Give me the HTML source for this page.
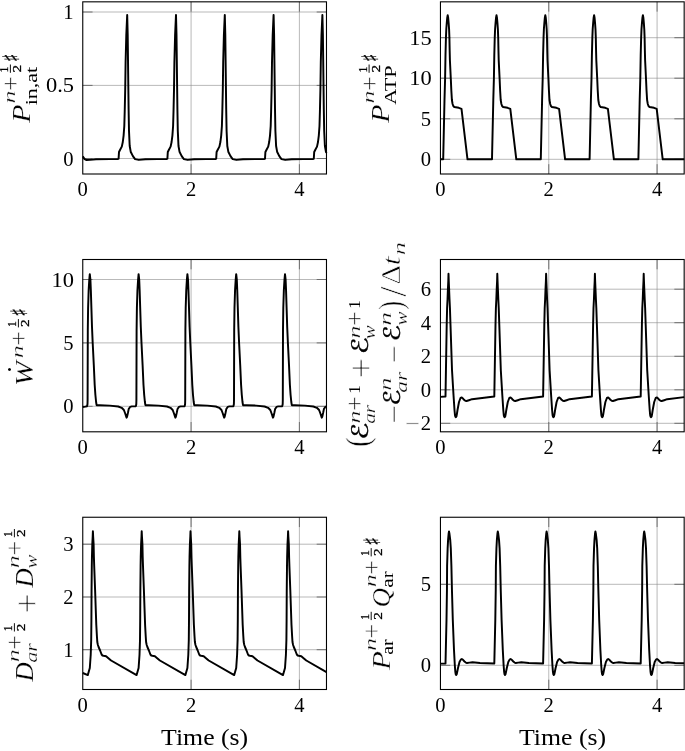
<!DOCTYPE html>
<html lang="en"><head><meta charset="utf-8"><title>Power and energy balance over time</title>
<style>html,body{margin:0;padding:0;background:#fff}svg{display:block}text{font-family:'Liberation Serif',serif;fill:#000}.m{font-family:'DejaVu Sans',sans-serif}</style>
</head><body>
<svg width="685" height="751" viewBox="0 0 685 751">
<rect width="685" height="751" fill="#fff"/>
<g id="plot1">
<path d="M191.08 1.83V174M299.4 1.83V174M82.76 158.5H326.48M82.76 85.4H326.48M82.76 12H326.48" fill="none" stroke="#8a8a8a" stroke-width="0.6"/>
<path d="M191.08 174v-9.8M191.08 1.83v9.8M299.4 174v-9.8M299.4 1.83v9.8M82.76 158.5h9.8M326.48 158.5h-9.8M82.76 85.4h9.8M326.48 85.4h-9.8M82.76 12h9.8M326.48 12h-9.8" fill="none" stroke="#606060" stroke-width="0.85"/>
<path d="M82.8 156.4 L83.6 157.5 L84.6 159.2 L86.5 160 L90 159.9 L96 159.3 L110 159.1 L118 159 L118.6 158.6 L119 152 L120 150 L121.8 146.6 L122.8 142 L123.6 135.6 L124.3 126 L124.7 112 L125.2 90 L125.6 62 L126.3 35 L127.2 14.9 L127.7 35 L128 60 L128.3 85 L128.6 109 L129 131 L129.7 146 L130.7 151.7 L132.9 156.1 L135.1 159.1 L138.8 159.9 L145.4 159.2 L157.2 159.1 L166.8 159 L167.4 158.6 L167.8 152 L168.8 150 L170.6 146.6 L171.6 142 L172.4 135.6 L173.1 126 L173.5 112 L174 90 L174.4 62 L175.1 35 L176 14.9 L176.5 35 L176.8 60 L177.1 85 L177.4 109 L177.8 131 L178.5 146 L179.5 151.7 L181.7 156.1 L183.9 159.1 L187.6 159.9 L194.2 159.2 L206 159.1 L215.6 159 L216.2 158.6 L216.6 152 L217.6 150 L219.4 146.6 L220.4 142 L221.2 135.6 L221.9 126 L222.3 112 L222.8 90 L223.2 62 L223.9 35 L224.8 14.9 L225.3 35 L225.6 60 L225.9 85 L226.2 109 L226.6 131 L227.3 146 L228.3 151.7 L230.5 156.1 L232.7 159.1 L236.4 159.9 L243 159.2 L254.8 159.1 L264.4 159 L265 158.6 L265.4 152 L266.4 150 L268.2 146.6 L269.2 142 L270 135.6 L270.7 126 L271.1 112 L271.6 90 L272 62 L272.7 35 L273.6 14.9 L274.1 35 L274.4 60 L274.7 85 L275 109 L275.4 131 L276.1 146 L277.1 151.7 L279.3 156.1 L281.5 159.1 L285.2 159.9 L291.8 159.2 L303.6 159.1 L313.2 159 L313.8 158.6 L314.2 152 L315.2 150 L317 146.6 L318 142 L318.8 135.6 L319.5 126 L319.9 112 L320.4 90 L320.8 62 L321.5 35 L322.4 14.9 L322.9 35 L323.2 60 L323.5 85 L323.8 109 L324.2 131 L324.9 146 L325.9 151.7 L326.48 152.86" fill="none" stroke="#000" stroke-width="1.95" stroke-linejoin="round" stroke-linecap="butt"/>
<rect x="82.76" y="1.83" width="243.72" height="172.17" fill="none" stroke="#000" stroke-width="1.1"/>
<text x="82.76" y="196.3" font-size="20.6" text-anchor="middle">0</text>
<text x="191.08" y="196.3" font-size="20.6" text-anchor="middle">2</text>
<text x="299.4" y="196.3" font-size="20.6" text-anchor="middle">4</text>
<text x="73.46" y="165.5" font-size="20.6" text-anchor="end">0</text>
<text x="74.06" y="92.4" font-size="20.6" text-anchor="end" textLength="28.07" lengthAdjust="spacingAndGlyphs">0.5</text>
<text x="73.46" y="19" font-size="20.6" text-anchor="end">1</text>
</g>
<g id="plot2">
<path d="M548.77 1.83V174M657.09 1.83V174M440.45 159.3H684.17M440.45 118.8H684.17M440.45 78.2H684.17M440.45 37.7H684.17" fill="none" stroke="#8a8a8a" stroke-width="0.6"/>
<path d="M548.77 174v-9.8M548.77 1.83v9.8M657.09 174v-9.8M657.09 1.83v9.8M440.45 159.3h9.8M684.17 159.3h-9.8M440.45 118.8h9.8M684.17 118.8h-9.8M440.45 78.2h9.8M684.17 78.2h-9.8M440.45 37.7h9.8M684.17 37.7h-9.8" fill="none" stroke="#606060" stroke-width="0.85"/>
<path d="M440.5 159.3 L443.2 159.3 L444.5 100 L445.1 78.5 L445.5 55 L445.95 37.6 L446.3 29 L446.75 23 L447.2 18 L447.7 15.2 L448.2 18 L448.65 23 L449.1 29.5 L449.4 37.6 L449.65 50 L449.9 60 L450.8 78.5 L451.3 90 L451.9 100 L452.6 104 L453.3 106 L454.3 107 L458.8 107.8 L461.5 108.8 L467.5 159.3 L477.7 159.3 L492 159.3 L493.3 100 L493.9 78.5 L494.3 55 L494.75 37.6 L495.1 29 L495.55 23 L496 18 L496.5 15.2 L497 18 L497.45 23 L497.9 29.5 L498.2 37.6 L498.45 50 L498.7 60 L499.6 78.5 L500.1 90 L500.7 100 L501.4 104 L502.1 106 L503.1 107 L507.6 107.8 L510.3 108.8 L516.3 159.3 L526.5 159.3 L540.8 159.3 L542.1 100 L542.7 78.5 L543.1 55 L543.55 37.6 L543.9 29 L544.35 23 L544.8 18 L545.3 15.2 L545.8 18 L546.25 23 L546.7 29.5 L547 37.6 L547.25 50 L547.5 60 L548.4 78.5 L548.9 90 L549.5 100 L550.2 104 L550.9 106 L551.9 107 L556.4 107.8 L559.1 108.8 L565.1 159.3 L575.3 159.3 L589.6 159.3 L590.9 100 L591.5 78.5 L591.9 55 L592.35 37.6 L592.7 29 L593.15 23 L593.6 18 L594.1 15.2 L594.6 18 L595.05 23 L595.5 29.5 L595.8 37.6 L596.05 50 L596.3 60 L597.2 78.5 L597.7 90 L598.3 100 L599 104 L599.7 106 L600.7 107 L605.2 107.8 L607.9 108.8 L613.9 159.3 L624.1 159.3 L638.4 159.3 L639.7 100 L640.3 78.5 L640.7 55 L641.15 37.6 L641.5 29 L641.95 23 L642.4 18 L642.9 15.2 L643.4 18 L643.85 23 L644.3 29.5 L644.6 37.6 L644.85 50 L645.1 60 L646 78.5 L646.5 90 L647.1 100 L647.8 104 L648.5 106 L649.5 107 L654 107.8 L656.7 108.8 L662.7 159.3 L672.9 159.3 L684.17 159.3" fill="none" stroke="#000" stroke-width="1.95" stroke-linejoin="round" stroke-linecap="butt"/>
<rect x="440.45" y="1.83" width="243.72" height="172.17" fill="none" stroke="#000" stroke-width="1.1"/>
<text x="440.45" y="196.3" font-size="20.6" text-anchor="middle">0</text>
<text x="548.77" y="196.3" font-size="20.6" text-anchor="middle">2</text>
<text x="657.09" y="196.3" font-size="20.6" text-anchor="middle">4</text>
<text x="431.15" y="166.3" font-size="20.6" text-anchor="end">0</text>
<text x="431.15" y="125.8" font-size="20.6" text-anchor="end">5</text>
<text x="431.75" y="85.2" font-size="20.6" text-anchor="end" textLength="22.45" lengthAdjust="spacingAndGlyphs">10</text>
<text x="431.75" y="44.7" font-size="20.6" text-anchor="end" textLength="22.45" lengthAdjust="spacingAndGlyphs">15</text>
</g>
<g id="plot3">
<path d="M191.08 259.5V431.8M299.4 259.5V431.8M82.76 406.3H326.48M82.76 342.9H326.48M82.76 279.5H326.48" fill="none" stroke="#8a8a8a" stroke-width="0.6"/>
<path d="M191.08 431.8v-9.8M191.08 259.5v9.8M299.4 431.8v-9.8M299.4 259.5v9.8M82.76 406.3h9.8M326.48 406.3h-9.8M82.76 342.9h9.8M326.48 342.9h-9.8M82.76 279.5h9.8M326.48 279.5h-9.8" fill="none" stroke="#606060" stroke-width="0.85"/>
<path d="M82.8 407 L85.5 406.6 L87.1 406.2 L87.5 404 L87.6 400 L87.8 330 L88.1 308 L88.65 290.4 L89.3 279.5 L89.8 274.2 L90.4 279.5 L90.85 290.4 L91.4 308 L92 327 L92.7 343 L93.8 365 L94.7 385 L95.4 395 L96.1 402 L96.6 405.2 L99.8 405.3 L109.8 405.6 L118.2 406.5 L121.7 407.8 L123.9 410 L125.2 413.5 L126.1 416.3 L126.6 417.7 L127.1 416.5 L127.9 413 L128.7 409.1 L130.1 406.9 L131.8 406.4 L135.9 406.2 L136.3 404 L136.4 400 L136.6 330 L136.9 308 L137.45 290.4 L138.1 279.5 L138.6 274.2 L139.2 279.5 L139.65 290.4 L140.2 308 L140.8 327 L141.5 343 L142.6 365 L143.5 385 L144.2 395 L144.9 402 L145.4 405.2 L148.6 405.3 L158.6 405.6 L167 406.5 L170.5 407.8 L172.7 410 L174 413.5 L174.9 416.3 L175.4 417.7 L175.9 416.5 L176.7 413 L177.5 409.1 L178.9 406.9 L180.6 406.4 L184.7 406.2 L185.1 404 L185.2 400 L185.4 330 L185.7 308 L186.25 290.4 L186.9 279.5 L187.4 274.2 L188 279.5 L188.45 290.4 L189 308 L189.6 327 L190.3 343 L191.4 365 L192.3 385 L193 395 L193.7 402 L194.2 405.2 L197.4 405.3 L207.4 405.6 L215.8 406.5 L219.3 407.8 L221.5 410 L222.8 413.5 L223.7 416.3 L224.2 417.7 L224.7 416.5 L225.5 413 L226.3 409.1 L227.7 406.9 L229.4 406.4 L233.5 406.2 L233.5 406.2 L233.9 404 L234 400 L234.2 330 L234.5 308 L235.05 290.4 L235.7 279.5 L236.2 274.2 L236.8 279.5 L237.25 290.4 L237.8 308 L238.4 327 L239.1 343 L240.2 365 L241.1 385 L241.8 395 L242.5 402 L243 405.2 L246.2 405.3 L256.2 405.6 L264.6 406.5 L268.1 407.8 L270.3 410 L271.6 413.5 L272.5 416.3 L273 417.7 L273.5 416.5 L274.3 413 L275.1 409.1 L276.5 406.9 L278.2 406.4 L282.3 406.2 L282.7 404 L282.8 400 L283 330 L283.3 308 L283.85 290.4 L284.5 279.5 L285 274.2 L285.6 279.5 L286.05 290.4 L286.6 308 L287.2 327 L287.9 343 L289 365 L289.9 385 L290.6 395 L291.3 402 L291.8 405.2 L295 405.3 L305 405.6 L313.4 406.5 L316.9 407.8 L319.1 410 L320.4 413.5 L321.3 416.3 L321.8 417.7 L322.3 416.5 L323.1 413 L323.9 409.1 L325.3 406.9 L326.48 406.55" fill="none" stroke="#000" stroke-width="1.95" stroke-linejoin="round" stroke-linecap="butt"/>
<rect x="82.76" y="259.5" width="243.72" height="172.3" fill="none" stroke="#000" stroke-width="1.1"/>
<text x="82.76" y="454.1" font-size="20.6" text-anchor="middle">0</text>
<text x="191.08" y="454.1" font-size="20.6" text-anchor="middle">2</text>
<text x="299.4" y="454.1" font-size="20.6" text-anchor="middle">4</text>
<text x="73.46" y="413.3" font-size="20.6" text-anchor="end">0</text>
<text x="73.46" y="349.9" font-size="20.6" text-anchor="end">5</text>
<text x="74.06" y="286.5" font-size="20.6" text-anchor="end" textLength="22.45" lengthAdjust="spacingAndGlyphs">10</text>
</g>
<g id="plot4">
<path d="M548.77 259.5V431.8M657.09 259.5V431.8M440.45 423.3H684.17M440.45 389.8H684.17M440.45 356.3H684.17M440.45 322.7H684.17M440.45 289.2H684.17" fill="none" stroke="#8a8a8a" stroke-width="0.6"/>
<path d="M548.77 431.8v-9.8M548.77 259.5v9.8M657.09 431.8v-9.8M657.09 259.5v9.8M440.45 423.3h9.8M684.17 423.3h-9.8M440.45 389.8h9.8M684.17 389.8h-9.8M440.45 356.3h9.8M684.17 356.3h-9.8M440.45 322.7h9.8M684.17 322.7h-9.8M440.45 289.2h9.8M684.17 289.2h-9.8" fill="none" stroke="#606060" stroke-width="0.85"/>
<path d="M440.5 396.9 L445.5 396.5 L446.7 325 L447.1 308 L447.55 299 L447.9 289.5 L448.3 281 L448.5 273.8 L448.75 281 L449.1 289.5 L449.5 299 L449.93 308 L450.5 325 L452 370 L453.5 395 L454.5 410 L455 415.3 L455.4 416.8 L455.9 417.2 L456.4 416.5 L456.8 414.6 L457.5 410 L459 402 L460.5 398 L461.8 397.5 L462.9 398.4 L464 399.8 L465.3 400.8 L466.5 401 L469 400.2 L472 399.2 L494.3 396.5 L495.5 325 L495.9 308 L496.35 299 L496.7 289.5 L497.1 281 L497.3 273.8 L497.55 281 L497.9 289.5 L498.3 299 L498.73 308 L499.3 325 L500.8 370 L502.3 395 L503.3 410 L503.8 415.3 L504.2 416.8 L504.7 417.2 L505.2 416.5 L505.6 414.6 L506.3 410 L507.8 402 L509.3 398 L510.6 397.5 L511.7 398.4 L512.8 399.8 L514.1 400.8 L515.3 401 L517.8 400.2 L520.8 399.2 L543.1 396.5 L544.3 325 L544.7 308 L545.15 299 L545.5 289.5 L545.9 281 L546.1 273.8 L546.35 281 L546.7 289.5 L547.1 299 L547.53 308 L548.1 325 L549.6 370 L551.1 395 L552.1 410 L552.6 415.3 L553 416.8 L553.5 417.2 L554 416.5 L554.4 414.6 L555.1 410 L556.6 402 L558.1 398 L559.4 397.5 L560.5 398.4 L561.6 399.8 L562.9 400.8 L564.1 401 L566.6 400.2 L569.6 399.2 L591.9 396.5 L593.1 325 L593.5 308 L593.95 299 L594.3 289.5 L594.7 281 L594.9 273.8 L595.15 281 L595.5 289.5 L595.9 299 L596.33 308 L596.9 325 L598.4 370 L599.9 395 L600.9 410 L601.4 415.3 L601.8 416.8 L602.3 417.2 L602.8 416.5 L603.2 414.6 L603.9 410 L605.4 402 L606.9 398 L608.2 397.5 L609.3 398.4 L610.4 399.8 L611.7 400.8 L612.9 401 L615.4 400.2 L618.4 399.2 L640.7 396.5 L640.7 396.5 L641.9 325 L642.3 308 L642.75 299 L643.1 289.5 L643.5 281 L643.7 273.8 L643.95 281 L644.3 289.5 L644.7 299 L645.13 308 L645.7 325 L647.2 370 L648.7 395 L649.7 410 L650.2 415.3 L650.6 416.8 L651.1 417.2 L651.6 416.5 L652 414.6 L652.7 410 L654.2 402 L655.7 398 L657 397.5 L658.1 398.4 L659.2 399.8 L660.5 400.8 L661.7 401 L664.2 400.2 L667.2 399.2 L684.17 397.15" fill="none" stroke="#000" stroke-width="1.95" stroke-linejoin="round" stroke-linecap="butt"/>
<rect x="440.45" y="259.5" width="243.72" height="172.3" fill="none" stroke="#000" stroke-width="1.1"/>
<text x="440.45" y="454.1" font-size="20.6" text-anchor="middle">0</text>
<text x="548.77" y="454.1" font-size="20.6" text-anchor="middle">2</text>
<text x="657.09" y="454.1" font-size="20.6" text-anchor="middle">4</text>
<text x="405.02" y="430.8" font-size="22.6" textLength="15.04" lengthAdjust="spacingAndGlyphs" stroke="#fff" stroke-width="0.4">−</text>
<text x="431.15" y="430.3" font-size="20.6" text-anchor="end">2</text>
<text x="431.15" y="396.8" font-size="20.6" text-anchor="end">0</text>
<text x="431.15" y="363.3" font-size="20.6" text-anchor="end">2</text>
<text x="431.15" y="329.7" font-size="20.6" text-anchor="end">4</text>
<text x="431.15" y="296.2" font-size="20.6" text-anchor="end">6</text>
</g>
<g id="plot5">
<path d="M191.08 517.25V689.5M299.4 517.25V689.5M82.76 649.7H326.48M82.76 597H326.48M82.76 544.2H326.48" fill="none" stroke="#8a8a8a" stroke-width="0.6"/>
<path d="M191.08 689.5v-9.8M191.08 517.25v9.8M299.4 689.5v-9.8M299.4 517.25v9.8M82.76 649.7h9.8M326.48 649.7h-9.8M82.76 597h9.8M326.48 597h-9.8M82.76 544.2h9.8M326.48 544.2h-9.8" fill="none" stroke="#606060" stroke-width="0.85"/>
<path d="M82.8 673 L87.8 675.1 L89.8 668 L90.7 655 L91.2 640 L91.4 620 L91.55 590 L91.8 566 L91.95 557 L92.3 544.3 L92.7 536.6 L92.9 531.3 L93.15 536.6 L93.62 544.3 L93.9 557 L94.2 566 L95.1 590 L95.6 605 L96.3 625 L96.9 636 L97.3 642 L97.9 645 L98.6 647 L100.1 650.5 L101.6 654.5 L102.5 655.5 L103.6 655.8 L106.1 656.2 L108.4 658.2 L111.1 660.5 L136.6 675.1 L138.6 668 L139.5 655 L140 640 L140.2 620 L140.35 590 L140.6 566 L140.75 557 L141.1 544.3 L141.5 536.6 L141.7 531.3 L141.95 536.6 L142.42 544.3 L142.7 557 L143 566 L143.9 590 L144.4 605 L145.1 625 L145.7 636 L146.1 642 L146.7 645 L147.4 647 L148.9 650.5 L150.4 654.5 L151.3 655.5 L152.4 655.8 L154.9 656.2 L157.2 658.2 L159.9 660.5 L185.4 675.1 L185.4 675.1 L187.4 668 L188.3 655 L188.8 640 L189 620 L189.15 590 L189.4 566 L189.55 557 L189.9 544.3 L190.3 536.6 L190.5 531.3 L190.75 536.6 L191.22 544.3 L191.5 557 L191.8 566 L192.7 590 L193.2 605 L193.9 625 L194.5 636 L194.9 642 L195.5 645 L196.2 647 L197.7 650.5 L199.2 654.5 L200.1 655.5 L201.2 655.8 L203.7 656.2 L206 658.2 L208.7 660.5 L234.2 675.1 L236.2 668 L237.1 655 L237.6 640 L237.8 620 L237.95 590 L238.2 566 L238.35 557 L238.7 544.3 L239.1 536.6 L239.3 531.3 L239.55 536.6 L240.02 544.3 L240.3 557 L240.6 566 L241.5 590 L242 605 L242.7 625 L243.3 636 L243.7 642 L244.3 645 L245 647 L246.5 650.5 L248 654.5 L248.9 655.5 L250 655.8 L252.5 656.2 L254.8 658.2 L257.5 660.5 L283 675.1 L285 668 L285.9 655 L286.4 640 L286.6 620 L286.75 590 L287 566 L287.15 557 L287.5 544.3 L287.9 536.6 L288.1 531.3 L288.35 536.6 L288.82 544.3 L289.1 557 L289.4 566 L290.3 590 L290.8 605 L291.5 625 L292.1 636 L292.5 642 L293.1 645 L293.8 647 L295.3 650.5 L296.8 654.5 L297.7 655.5 L298.8 655.8 L301.3 656.2 L303.6 658.2 L306.3 660.5 L326.48 672.05" fill="none" stroke="#000" stroke-width="1.95" stroke-linejoin="round" stroke-linecap="butt"/>
<rect x="82.76" y="517.25" width="243.72" height="172.25" fill="none" stroke="#000" stroke-width="1.1"/>
<text x="82.76" y="711.8" font-size="20.6" text-anchor="middle">0</text>
<text x="191.08" y="711.8" font-size="20.6" text-anchor="middle">2</text>
<text x="299.4" y="711.8" font-size="20.6" text-anchor="middle">4</text>
<text x="73.46" y="656.7" font-size="20.6" text-anchor="end">1</text>
<text x="73.46" y="604" font-size="20.6" text-anchor="end">2</text>
<text x="73.46" y="551.2" font-size="20.6" text-anchor="end">3</text>
</g>
<g id="plot6">
<path d="M548.77 517.25V689.5M657.09 517.25V689.5M440.45 665.3H684.17M440.45 584.3H684.17" fill="none" stroke="#8a8a8a" stroke-width="0.6"/>
<path d="M548.77 689.5v-9.8M548.77 517.25v9.8M657.09 689.5v-9.8M657.09 517.25v9.8M440.45 665.3h9.8M684.17 665.3h-9.8M440.45 584.3h9.8M684.17 584.3h-9.8" fill="none" stroke="#606060" stroke-width="0.85"/>
<path d="M440.5 663.6 L445.5 663.5 L446.5 620 L446.95 590 L447.1 566 L447.64 548.4 L448.1 539.6 L448.6 534 L449 531.5 L449.5 534 L450.2 539.6 L450.8 548.4 L451.4 566 L451.95 590 L452.8 620 L454 650 L454.8 665 L455.3 671.5 L455.7 674.2 L456.2 675 L456.7 674.2 L457.2 672 L458 668 L459.5 662 L460.8 659.6 L461.8 659 L463 659.8 L464.5 661.5 L465.8 662.6 L467 663 L469.5 662.6 L472.5 662.2 L480 663 L494.3 663.5 L495.3 620 L495.75 590 L495.9 566 L496.44 548.4 L496.9 539.6 L497.4 534 L497.8 531.5 L498.3 534 L499 539.6 L499.6 548.4 L500.2 566 L500.75 590 L501.6 620 L502.8 650 L503.6 665 L504.1 671.5 L504.5 674.2 L505 675 L505.5 674.2 L506 672 L506.8 668 L508.3 662 L509.6 659.6 L510.6 659 L511.8 659.8 L513.3 661.5 L514.6 662.6 L515.8 663 L518.3 662.6 L521.3 662.2 L528.8 663 L543.1 663.5 L544.1 620 L544.55 590 L544.7 566 L545.24 548.4 L545.7 539.6 L546.2 534 L546.6 531.5 L547.1 534 L547.8 539.6 L548.4 548.4 L549 566 L549.55 590 L550.4 620 L551.6 650 L552.4 665 L552.9 671.5 L553.3 674.2 L553.8 675 L554.3 674.2 L554.8 672 L555.6 668 L557.1 662 L558.4 659.6 L559.4 659 L560.6 659.8 L562.1 661.5 L563.4 662.6 L564.6 663 L567.1 662.6 L570.1 662.2 L577.6 663 L591.9 663.5 L592.9 620 L593.35 590 L593.5 566 L594.04 548.4 L594.5 539.6 L595 534 L595.4 531.5 L595.9 534 L596.6 539.6 L597.2 548.4 L597.8 566 L598.35 590 L599.2 620 L600.4 650 L601.2 665 L601.7 671.5 L602.1 674.2 L602.6 675 L603.1 674.2 L603.6 672 L604.4 668 L605.9 662 L607.2 659.6 L608.2 659 L609.4 659.8 L610.9 661.5 L612.2 662.6 L613.4 663 L615.9 662.6 L618.9 662.2 L626.4 663 L640.7 663.5 L640.7 663.5 L641.7 620 L642.15 590 L642.3 566 L642.84 548.4 L643.3 539.6 L643.8 534 L644.2 531.5 L644.7 534 L645.4 539.6 L646 548.4 L646.6 566 L647.15 590 L648 620 L649.2 650 L650 665 L650.5 671.5 L650.9 674.2 L651.4 675 L651.9 674.2 L652.4 672 L653.2 668 L654.7 662 L656 659.6 L657 659 L658.2 659.8 L659.7 661.5 L661 662.6 L662.2 663 L664.7 662.6 L667.7 662.2 L675.2 663 L684.17 663.31" fill="none" stroke="#000" stroke-width="1.95" stroke-linejoin="round" stroke-linecap="butt"/>
<rect x="440.45" y="517.25" width="243.72" height="172.25" fill="none" stroke="#000" stroke-width="1.1"/>
<text x="440.45" y="711.8" font-size="20.6" text-anchor="middle">0</text>
<text x="548.77" y="711.8" font-size="20.6" text-anchor="middle">2</text>
<text x="657.09" y="711.8" font-size="20.6" text-anchor="middle">4</text>
<text x="431.15" y="672.3" font-size="20.6" text-anchor="end">0</text>
<text x="431.15" y="591.3" font-size="20.6" text-anchor="end">5</text>
</g>
<text x="161.1" y="744.8" font-size="23" textLength="87.1" lengthAdjust="spacingAndGlyphs">Time (s)</text>
<text x="519" y="744.8" font-size="23" textLength="87.1" lengthAdjust="spacingAndGlyphs">Time (s)</text>
<g id="ylabel1" transform="translate(29.8 122.9) rotate(-90)">
<text x="0.15" y="0.6" font-size="26" font-style="italic" textLength="18.33" lengthAdjust="spacingAndGlyphs" stroke="#fff" stroke-width="0.2">P</text>
<text x="17.56" y="7.2" font-size="17.5" textLength="38.45" lengthAdjust="spacingAndGlyphs">in,at</text>
<text x="19.29" y="-14.4" font-size="17.5" font-style="italic" textLength="12.94" lengthAdjust="spacingAndGlyphs" stroke="#fff" stroke-width="0.3">n</text>
<text x="31.79" y="-10.7" font-size="26" textLength="14.8" lengthAdjust="spacingAndGlyphs" stroke="#fff" stroke-width="0.5">+</text>
<path d="M50.1 -19.4H58.4" stroke="#000" stroke-width="0.95" fill="none"/>
<text x="50.45" y="-22" font-size="11.5" textLength="5.86" lengthAdjust="spacingAndGlyphs" stroke="#000" stroke-width="0.3">1</text>
<text x="50.41" y="-8.8" font-size="11.5" textLength="7.63" lengthAdjust="spacingAndGlyphs" stroke="#000" stroke-width="0.3">2</text>
<text x="62.18" y="-12.9" font-size="20" textLength="6.33" lengthAdjust="spacingAndGlyphs" stroke="#000" stroke-width="0.35">♯</text>
</g>
<g id="ylabel2" transform="translate(388.5 122.9) rotate(-90)">
<text x="0.15" y="0.6" font-size="26" font-style="italic" textLength="18.33" lengthAdjust="spacingAndGlyphs" stroke="#fff" stroke-width="0.2">P</text>
<text x="18.08" y="7.6" font-size="17" textLength="39.36" lengthAdjust="spacingAndGlyphs">ATP</text>
<text x="19.29" y="-14.4" font-size="17.5" font-style="italic" textLength="12.94" lengthAdjust="spacingAndGlyphs" stroke="#fff" stroke-width="0.3">n</text>
<text x="31.79" y="-10.7" font-size="26" textLength="14.8" lengthAdjust="spacingAndGlyphs" stroke="#fff" stroke-width="0.5">+</text>
<path d="M50.1 -19.4H58.4" stroke="#000" stroke-width="0.95" fill="none"/>
<text x="50.45" y="-22" font-size="11.5" textLength="5.86" lengthAdjust="spacingAndGlyphs" stroke="#000" stroke-width="0.3">1</text>
<text x="50.41" y="-8.8" font-size="11.5" textLength="7.63" lengthAdjust="spacingAndGlyphs" stroke="#000" stroke-width="0.3">2</text>
<text x="62.18" y="-12.9" font-size="20" textLength="6.33" lengthAdjust="spacingAndGlyphs" stroke="#000" stroke-width="0.35">♯</text>
</g>
<g id="ylabel3" transform="translate(32.4 384) rotate(-90)">
<text x="-1.92" y="0.3" font-size="26" font-style="italic" textLength="24.64" lengthAdjust="spacingAndGlyphs" stroke="#fff" stroke-width="0.2">W</text>
<text x="11.25" y="-21" font-size="26">.</text>
<text x="25.79" y="-9" font-size="17.5" font-style="italic" textLength="12.94" lengthAdjust="spacingAndGlyphs" stroke="#fff" stroke-width="0.3">n</text>
<text x="38.29" y="-5.3" font-size="26" textLength="14.8" lengthAdjust="spacingAndGlyphs" stroke="#fff" stroke-width="0.5">+</text>
<path d="M56.6 -14H64.9" stroke="#000" stroke-width="0.95" fill="none"/>
<text x="56.95" y="-16.6" font-size="11.5" textLength="5.86" lengthAdjust="spacingAndGlyphs" stroke="#000" stroke-width="0.3">1</text>
<text x="56.91" y="-3.4" font-size="11.5" textLength="7.63" lengthAdjust="spacingAndGlyphs" stroke="#000" stroke-width="0.3">2</text>
<text x="68.68" y="-7.5" font-size="20" textLength="6.33" lengthAdjust="spacingAndGlyphs" stroke="#000" stroke-width="0.35">♯</text>
</g>
<g id="ylabel4" transform="translate(367.8 445.6) rotate(-90)">
<text x="-1.31" y="1.5" font-size="33" textLength="9.66" lengthAdjust="spacingAndGlyphs" stroke="#fff" stroke-width="0.5">(</text>
<text x="5.82" y="0" font-size="23" class="m" textLength="17.21" lengthAdjust="spacingAndGlyphs" stroke="#000" stroke-width="0.3">ℰ</text>
<text x="21.76" y="6.9" font-size="17.5" font-style="italic" textLength="19.02" lengthAdjust="spacingAndGlyphs" stroke="#fff" stroke-width="0.25">ar</text>
<text x="21.99" y="-8.1" font-size="17.5" font-style="italic" textLength="12.94" lengthAdjust="spacingAndGlyphs" stroke="#fff" stroke-width="0.3">n</text>
<text x="34.49" y="-4.4" font-size="26" textLength="14.8" lengthAdjust="spacingAndGlyphs" stroke="#fff" stroke-width="0.5">+</text>
<text x="51.96" y="-8.1" font-size="16.5" textLength="8.57" lengthAdjust="spacingAndGlyphs">1</text>
<text x="67.64" y="5.15" font-size="35" textLength="19.89" lengthAdjust="spacingAndGlyphs" stroke="#fff" stroke-width="0.7">+</text>
<text x="91.42" y="0" font-size="23" class="m" textLength="17.21" lengthAdjust="spacingAndGlyphs" stroke="#000" stroke-width="0.3">ℰ</text>
<text x="106.38" y="6.9" font-size="17.5" font-style="italic" textLength="13.97" lengthAdjust="spacingAndGlyphs" stroke="#fff" stroke-width="0.25">w</text>
<text x="106.99" y="-8.1" font-size="17.5" font-style="italic" textLength="12.94" lengthAdjust="spacingAndGlyphs" stroke="#fff" stroke-width="0.3">n</text>
<text x="119.49" y="-4.4" font-size="26" textLength="14.8" lengthAdjust="spacingAndGlyphs" stroke="#fff" stroke-width="0.5">+</text>
<text x="136.96" y="-8.1" font-size="16.5" textLength="8.57" lengthAdjust="spacingAndGlyphs">1</text>
<text x="21.85" y="37.2" font-size="33" textLength="18.56" lengthAdjust="spacingAndGlyphs" stroke="#fff" stroke-width="0.6">−</text>
<text x="39.96" y="32.2" font-size="23" class="m" textLength="16.22" lengthAdjust="spacingAndGlyphs" stroke="#000" stroke-width="0.3">ℰ</text>
<text x="52.9" y="39.6" font-size="17.5" font-style="italic" textLength="20.78" lengthAdjust="spacingAndGlyphs" stroke="#fff" stroke-width="0.25">ar</text>
<text x="54.98" y="23.7" font-size="17.5" font-style="italic" textLength="13.18" lengthAdjust="spacingAndGlyphs" stroke="#fff" stroke-width="0.3">n</text>
<text x="82.41" y="37.2" font-size="33" textLength="17.95" lengthAdjust="spacingAndGlyphs" stroke="#fff" stroke-width="0.6">−</text>
<text x="104.21" y="32.2" font-size="23" class="m" textLength="16.59" lengthAdjust="spacingAndGlyphs" stroke="#000" stroke-width="0.3">ℰ</text>
<text x="119.74" y="23.7" font-size="17.5" font-style="italic" textLength="13.76" lengthAdjust="spacingAndGlyphs" stroke="#fff" stroke-width="0.3">n</text>
<text x="120.18" y="39.6" font-size="17.5" font-style="italic" textLength="13.97" lengthAdjust="spacingAndGlyphs" stroke="#fff" stroke-width="0.25">w</text>
<text x="136.23" y="34.2" font-size="33" textLength="8.58" lengthAdjust="spacingAndGlyphs" stroke="#fff" stroke-width="0.5">)</text>
<text x="148.8" y="38.4" font-size="37.6" textLength="10.31" lengthAdjust="spacingAndGlyphs" stroke="#fff" stroke-width="0.6">/</text>
<text x="160.87" y="32.5" font-size="26.5" textLength="19.8" lengthAdjust="spacingAndGlyphs" stroke="#fff" stroke-width="0.8">Δ</text>
<text x="180.02" y="32.5" font-size="26" font-style="italic" textLength="9.12" lengthAdjust="spacingAndGlyphs" stroke="#fff" stroke-width="0.5">t</text>
<text x="190.28" y="37" font-size="17.5" font-style="italic" textLength="13.18" lengthAdjust="spacingAndGlyphs" stroke="#fff" stroke-width="0.3">n</text>
</g>
<g id="ylabel5" transform="translate(33 681.7) rotate(-90)">
<text x="0.27" y="0.3" font-size="26" font-style="italic" textLength="19.19" lengthAdjust="spacingAndGlyphs" stroke="#fff" stroke-width="0.2">D</text>
<text x="18.93" y="3.6" font-size="17.5" font-style="italic" textLength="19.74" lengthAdjust="spacingAndGlyphs" stroke="#fff" stroke-width="0.25">ar</text>
<text x="19.39" y="-13.6" font-size="17.5" font-style="italic" textLength="12.94" lengthAdjust="spacingAndGlyphs" stroke="#fff" stroke-width="0.3">n</text>
<text x="31.89" y="-9.9" font-size="26" textLength="14.8" lengthAdjust="spacingAndGlyphs" stroke="#fff" stroke-width="0.5">+</text>
<path d="M50.2 -18.6H58.5" stroke="#000" stroke-width="0.95" fill="none"/>
<text x="50.55" y="-21.2" font-size="11.5" textLength="5.86" lengthAdjust="spacingAndGlyphs" stroke="#000" stroke-width="0.3">1</text>
<text x="50.51" y="-8" font-size="11.5" textLength="7.62" lengthAdjust="spacingAndGlyphs" stroke="#000" stroke-width="0.3">2</text>
<text x="68.44" y="5.65" font-size="35" textLength="19.89" lengthAdjust="spacingAndGlyphs" stroke="#fff" stroke-width="0.7">+</text>
<text x="94.27" y="0.3" font-size="26" font-style="italic" textLength="19.19" lengthAdjust="spacingAndGlyphs" stroke="#fff" stroke-width="0.2">D</text>
<text x="113.18" y="3.8" font-size="17.5" font-style="italic" textLength="13.87" lengthAdjust="spacingAndGlyphs" stroke="#fff" stroke-width="0.25">w</text>
<text x="113.59" y="-13.6" font-size="17.5" font-style="italic" textLength="12.94" lengthAdjust="spacingAndGlyphs" stroke="#fff" stroke-width="0.3">n</text>
<text x="126.09" y="-9.9" font-size="26" textLength="14.8" lengthAdjust="spacingAndGlyphs" stroke="#fff" stroke-width="0.5">+</text>
<path d="M144.4 -18.6H152.7" stroke="#000" stroke-width="0.95" fill="none"/>
<text x="144.75" y="-21.2" font-size="11.5" textLength="5.86" lengthAdjust="spacingAndGlyphs" stroke="#000" stroke-width="0.3">1</text>
<text x="144.71" y="-8" font-size="11.5" textLength="7.62" lengthAdjust="spacingAndGlyphs" stroke="#000" stroke-width="0.3">2</text>
</g>
<g id="ylabel6" transform="translate(389.8 670.1) rotate(-90)">
<text x="0.16" y="0" font-size="25" font-style="italic" textLength="18.95" lengthAdjust="spacingAndGlyphs" stroke="#fff" stroke-width="0.35">P</text>
<text x="15.4" y="3.6" font-size="17.5" textLength="15.43" lengthAdjust="spacingAndGlyphs">ar</text>
<text x="19.19" y="-13.6" font-size="17.5" font-style="italic" textLength="12.94" lengthAdjust="spacingAndGlyphs" stroke="#fff" stroke-width="0.3">n</text>
<text x="31.69" y="-9.9" font-size="26" textLength="14.8" lengthAdjust="spacingAndGlyphs" stroke="#fff" stroke-width="0.5">+</text>
<path d="M50 -18.6H58.3" stroke="#000" stroke-width="0.95" fill="none"/>
<text x="50.35" y="-21.2" font-size="11.5" textLength="5.86" lengthAdjust="spacingAndGlyphs" stroke="#000" stroke-width="0.3">1</text>
<text x="50.31" y="-8" font-size="11.5" textLength="7.63" lengthAdjust="spacingAndGlyphs" stroke="#000" stroke-width="0.3">2</text>
<text x="62.51" y="0" font-size="25" font-style="italic" textLength="19.55" lengthAdjust="spacingAndGlyphs" stroke="#fff" stroke-width="0.35">Q</text>
<text x="82.36" y="3.6" font-size="17.5" textLength="16.49" lengthAdjust="spacingAndGlyphs">ar</text>
<text x="82.89" y="-13.6" font-size="17.5" font-style="italic" textLength="12.94" lengthAdjust="spacingAndGlyphs" stroke="#fff" stroke-width="0.3">n</text>
<text x="95.39" y="-9.9" font-size="26" textLength="14.8" lengthAdjust="spacingAndGlyphs" stroke="#fff" stroke-width="0.5">+</text>
<path d="M113.7 -18.6H122" stroke="#000" stroke-width="0.95" fill="none"/>
<text x="114.05" y="-21.2" font-size="11.5" textLength="5.86" lengthAdjust="spacingAndGlyphs" stroke="#000" stroke-width="0.3">1</text>
<text x="114.01" y="-8" font-size="11.5" textLength="7.63" lengthAdjust="spacingAndGlyphs" stroke="#000" stroke-width="0.3">2</text>
<text x="125.78" y="-12.1" font-size="20" textLength="6.33" lengthAdjust="spacingAndGlyphs" stroke="#000" stroke-width="0.35">♯</text>
</g>
</svg>
</body></html>
